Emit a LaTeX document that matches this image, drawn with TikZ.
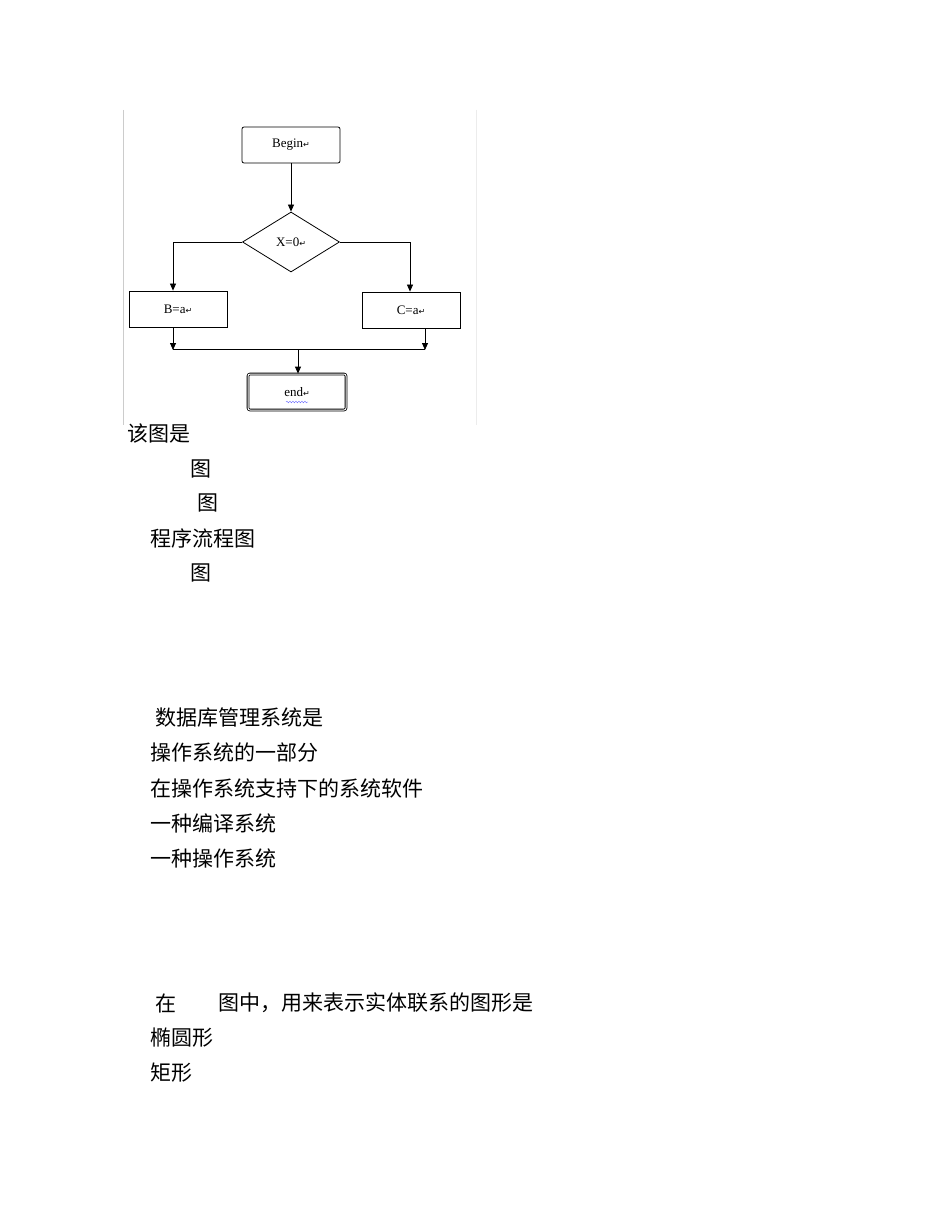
\documentclass[tikz,border=0pt]{standalone}
\usepackage{fontspec}
\setmainfont{Liberation Serif}
\newfontfamily\cjk{Noto Sans CJK SC}
\newfontfamily\sym{DejaVu Sans}
\usetikzlibrary{arrows.meta,shapes.geometric,decorations.pathmorphing}
\begin{document}
\begin{tikzpicture}[x=1pt,y=-1pt,
  box/.style={draw,line width=0.8pt,minimum width=98pt,minimum height=36pt,font=\fontsize{13}{15}\selectfont,inner sep=0pt},
  dia/.style={draw,line width=0.8pt,diamond,minimum width=97pt,minimum height=60pt,font=\fontsize{13}{15}\selectfont,inner sep=0pt},
  arr/.style={-{Triangle[length=7pt,width=6pt]},line width=0.8pt},
  ln/.style={line width=0.8pt},
  txt/.style={anchor=west,font=\cjk\fontsize{21}{24}\selectfont,inner sep=0pt}]
\useasboundingbox (0,0) rectangle (950,1230);
\fill[white] (0,0) rectangle (950,1230);
\draw[gray!40] (123,110) -- (123,425);
\draw[gray!15] (476,110) -- (476,425);
\node[box,rounded corners=2pt] (begin) at (291,145) {Begin{\sym\fontsize{8}{9}\selectfont ↵}};
\node[dia] (x0) at (291,242) {X=0{\sym\fontsize{8}{9}\selectfont ↵}};
\node[box] (b) at (178,309) {B=a{\sym\fontsize{8}{9}\selectfont ↵}};
\node[box] (c) at (411,310) {C=a{\sym\fontsize{8}{9}\selectfont ↵}};
\node[box,rounded corners=2pt,double,double distance=1pt] (end) at (297,392) {end{\sym\fontsize{8}{9}\selectfont ↵}};
\coordinate (jl) at (173,350);
\coordinate (jr) at (425,350);
\coordinate (jm) at (298,350);
\draw[arr] (begin) -- (x0.north);
\draw[arr] (x0.west) -| (b.north -| 173,0);
\draw[arr] (x0.east) -| (c.north -| 410,0);
\draw[arr] (b.south -| jl) -- (jl);
\draw[arr] (c.south -| jr) -- (jr);
\draw[ln,double,double distance=0.8pt] (jl) -- (jr);
\draw[arr] (jm) -- (end.north -| jm);
\draw[decorate,decoration={snake,amplitude=0.8pt,segment length=3pt},blue!60,line width=0.4pt] (286,402) -- (308,402);
\node[txt] (t1) at (127,434) {该图是};
\node[txt] (t2) at (190,469) {图};
\node[txt] (t3) at (197,503) {图};
\node[txt] (t4) at (150,538) {程序流程图};
\node[txt] (t5) at (190,573) {图};
\node[txt] (t6) at (155,718) {数据库管理系统是};
\node[txt] (t7) at (150,753) {操作系统的一部分};
\node[txt] (t8) at (150,788) {在操作系统支持下的系统软件};
\node[txt] (t9) at (150,823) {一种编译系统};
\node[txt] (t10) at (150,858) {一种操作系统};
\node[txt] (t11) at (155,1003) {在};
\node[txt] (t12) at (218,1003) {图中，用来表示实体联系的图形是};
\node[txt] (t13) at (150,1038) {椭圆形};
\node[txt] (t14) at (150,1073) {矩形};
\end{tikzpicture}
\end{document}
